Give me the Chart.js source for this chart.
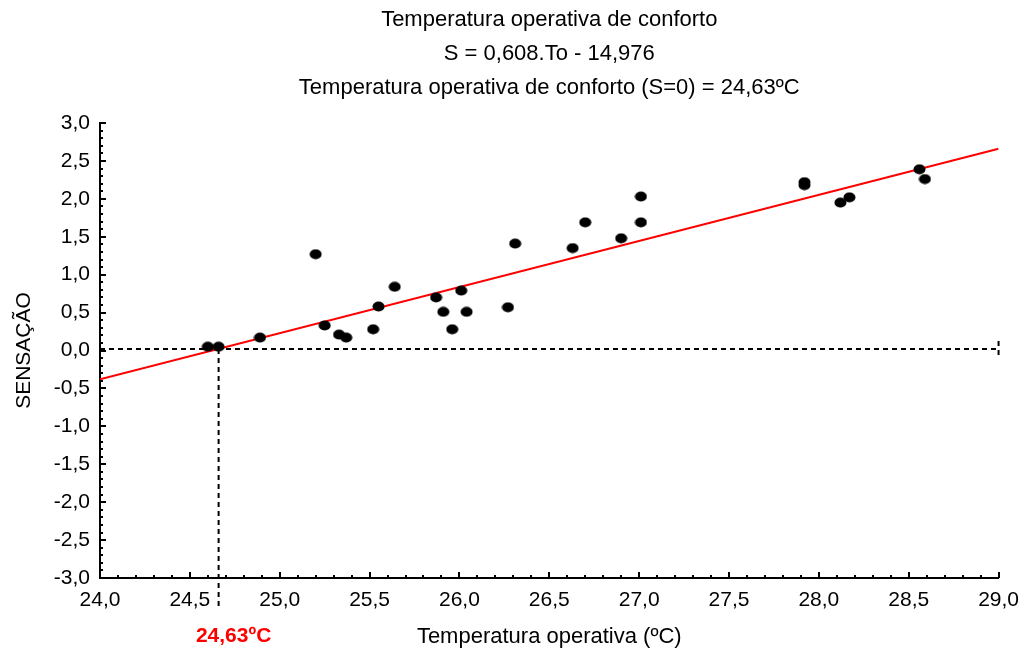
<!DOCTYPE html>
<html>
<head>
<meta charset="utf-8">
<script src="https://cdn.jsdelivr.net/npm/chart.js@4.4.1/dist/chart.umd.min.js"></script>
<style>
  html, body { margin: 0; padding: 0; background: #fff; }
</style>
</head>
<body>
<canvas id="chart" width="1029" height="654"></canvas>
<script>
// observed points: temperatura operativa (x) vs sensação (y)
var temps    = [24.60, 24.66, 24.89, 25.20, 25.25, 25.33, 25.37, 25.52, 25.55, 25.64, 25.87, 25.91, 25.96, 26.01,
                26.04, 26.27, 26.31, 26.63, 26.70, 26.90, 27.01, 27.01, 27.92, 27.92, 28.12, 28.17, 28.56, 28.59];
var sensacao = [0.05, 0.05, 0.17, 1.27, 0.33, 0.21, 0.17, 0.28, 0.58, 0.84, 0.70, 0.51, 0.28, 0.79,
                0.51, 0.57, 1.41, 1.35, 1.69, 1.48, 1.69, 2.03, 2.22, 2.18, 1.95, 2.02, 2.39, 2.26];

// fitted line S = 0,608.To - 14,976 (end points)
var fitX = [24.0, 29.0];
var fitY = [-0.38, 2.66];

// comfort reference (S=0)
var comfortTemp = 24.66;
var comfortS = 0.02;
var comfortLabel = '24,63ºC';

var titleLines = [
    'Temperatura operativa de conforto',
    'S = 0,608.To - 14,976',
    'Temperatura operativa de conforto (S=0) = 24,63ºC'
];

var FONT = "'Liberation Sans', Arial, sans-serif";

function fmt(v) {
    return v.toFixed(1).replace('.', ',');
}

// black oval used as marker
var dot = document.createElement('canvas');
dot.width = 13;
dot.height = 11;
(function () {
    var c = dot.getContext('2d');
    c.fillStyle = '#000';
    c.beginPath();
    c.ellipse(6.5, 5.5, 6, 5, 0, 0, Math.PI * 2);
    c.fill();
})();

var refLines = {
    id: 'refLines',
    beforeDatasetsDraw: function (chart) {
        var ctx = chart.ctx, xs = chart.scales.x, ys = chart.scales.y, a = chart.chartArea;
        var px = xs.getPixelForValue(comfortTemp);
        var py = ys.getPixelForValue(comfortS);
        ctx.save();
        ctx.strokeStyle = '#000';
        ctx.lineWidth = 2;
        ctx.setLineDash([5, 4]);
        ctx.beginPath();
        ctx.moveTo(a.left, py);
        ctx.lineTo(a.right, py);
        ctx.moveTo(px, py);
        ctx.lineTo(px, a.bottom + 32);
        ctx.moveTo(a.right, py - 8);
        ctx.lineTo(a.right, py + 8);
        ctx.stroke();
        ctx.restore();
    },
    afterDraw: function (chart) {
        var ctx = chart.ctx, xs = chart.scales.x, ys = chart.scales.y, a = chart.chartArea;
        var i, p, len;
        ctx.save();
        ctx.strokeStyle = '#000';
        ctx.lineWidth = 2;
        ctx.beginPath();
        // inward ticks, minor every 0,1
        for (i = 0; i <= 50; i++) {
            p = Math.round(xs.getPixelForValue(24 + i / 10));
            len = (i % 5 === 0) ? 6 : 3;
            ctx.moveTo(p, a.bottom);
            ctx.lineTo(p, a.bottom - len);
        }
        for (i = 0; i <= 60; i++) {
            p = Math.round(ys.getPixelForValue(-3 + i / 10));
            len = (i % 5 === 0) ? 6 : 3;
            ctx.moveTo(a.left, p);
            ctx.lineTo(a.left + len, p);
        }
        ctx.stroke();

        // red label under the comfort temperature
        ctx.fillStyle = '#ff0000';
        ctx.font = 'bold 21px ' + FONT;
        ctx.textAlign = 'center';
        ctx.textBaseline = 'middle';
        ctx.fillText(comfortLabel, xs.getPixelForValue(comfortTemp) + 15, a.bottom + 58);
        ctx.restore();
    }
};

var points = temps.map(function (t, i) {
    return { x: t, y: sensacao[i] };
});
var fit = fitX.map(function (t, i) {
    return { x: t, y: fitY[i] };
});

var ctx = document.getElementById('chart').getContext('2d');
var chart = new Chart(ctx, {
    type: 'scatter',
    data: {
        datasets: [
            {
                label: 'Sensação',
                data: points,
                pointStyle: dot,
                pointRadius: 6,
                backgroundColor: '#000',
                borderColor: '#000'
            },
            {
                type: 'line',
                label: 'Ajuste',
                data: fit,
                borderColor: '#ff0000',
                borderWidth: 2,
                pointRadius: 0,
                fill: false
            }
        ]
    },
    options: {
        responsive: false,
        animation: false,
        layout: { padding: { left: 0, right: 28, top: 0, bottom: 0 } },
        plugins: {
            legend: { display: false },
            tooltip: { enabled: false },
            title: {
                display: true,
                fullSize: false,
                text: titleLines,
                color: '#000',
                font: { family: FONT, size: 22, weight: 'normal', lineHeight: '34px' },
                padding: { top: 3, bottom: 18 }
            }
        },
        scales: {
            x: {
                type: 'linear',
                min: 24,
                max: 29,
                ticks: {
                    stepSize: 0.5,
                    color: '#000',
                    padding: 10,
                    font: { family: FONT, size: 21 },
                    callback: function (v) { return fmt(v); }
                },
                grid: { display: true, drawOnChartArea: false, drawTicks: false },
                border: { display: true, color: '#000', width: 2 },
                title: {
                    display: true,
                    text: 'Temperatura operativa (ºC)',
                    color: '#000',
                    font: { family: FONT, size: 22 },
                    padding: { top: 0, bottom: 4 }
                },
                afterFit: function (s) { s.height = 76; }
            },
            y: {
                type: 'linear',
                min: -3,
                max: 3,
                ticks: {
                    stepSize: 0.5,
                    color: '#000',
                    padding: 10,
                    font: { family: FONT, size: 21 },
                    callback: function (v) { return fmt(v); }
                },
                grid: { display: true, drawOnChartArea: false, drawTicks: false },
                border: { display: true, color: '#000', width: 2 },
                title: {
                    display: true,
                    text: 'SENSAÇÃO',
                    color: '#000',
                    font: { family: FONT, size: 21 },
                    padding: { top: 12, bottom: 0 }
                },
                afterFit: function (s) { s.width = 100; }
            }
        }
    },
    plugins: [refLines]
});
</script>
</body>
</html>
